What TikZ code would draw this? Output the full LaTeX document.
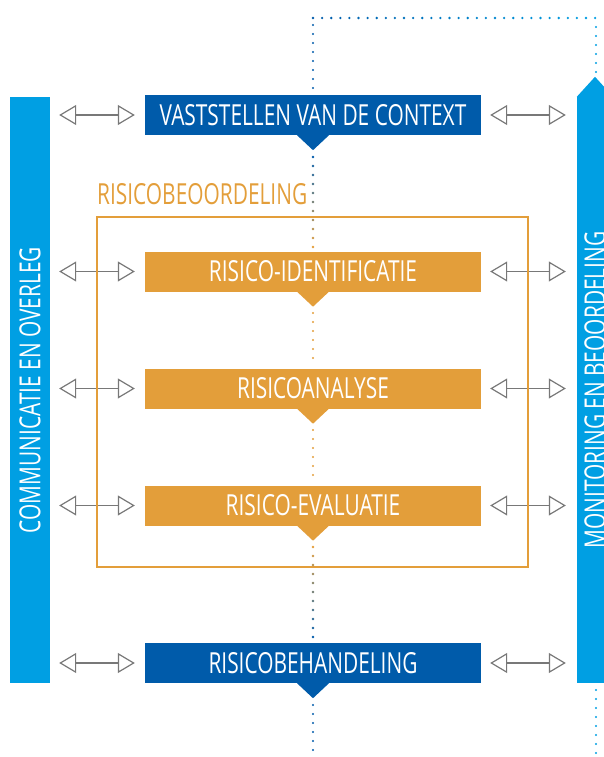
\documentclass[tikz,border=0pt]{standalone}
\usepackage{fontspec}
\setmainfont{Open Sans}[FakeStretch=0.72]
\usetikzlibrary{arrows.meta,positioning}
\definecolor{donkerblauw}{RGB}{0,91,170}
\definecolor{lichtblauw}{RGB}{0,159,227}
\definecolor{oranje}{RGB}{227,158,58}
\definecolor{pijlgrijs}{RGB}{120,120,120}

\begin{document}
\begin{tikzpicture}[x=1pt,y=-1pt,
  stap/.style={minimum width=336pt, minimum height=40pt, inner sep=0pt, text=white, font=\fontsize{29}{30}\selectfont},
  blauwstap/.style={stap, fill=donkerblauw},
  oranjestap/.style={stap, fill=oranje},
  balk/.style={fill=lichtblauw, inner sep=0pt, rotate=90, minimum width=586pt, text=white, font=\fontsize{29}{30}\selectfont},
  pijl/.style={draw=pijlgrijs, line width=1.2pt, {Triangle[open,length=17pt,width=20pt]}-{Triangle[open,length=17pt,width=20pt]}},
  stip/.style={line width=2.4pt, line cap=round, dash pattern=on 0pt off 9pt}
 ]

 \useasboundingbox (0,0) rectangle (604,757);
 \clip (0,0) rectangle (604,757);

 % zijbalken
 \node[balk, minimum height=40pt] (communicatie) at (30,390) {COMMUNICATIE EN OVERLEG};
 \node[balk, minimum height=36pt] (monitoring) at (595,390) {MONITORING EN BEOORDELING};
 \fill[lichtblauw] (monitoring.north east) -- ([yshift=20pt]monitoring.east) -- (monitoring.south east) -- cycle;

 % stappen
 \node[blauwstap] (context) at (313,115) {VASTSTELLEN VAN DE CONTEXT};
 \node[oranjestap] (identificatie) at (313,271.5) {RISICO-IDENTIFICATIE};
 \node[oranjestap] (analyse) at (313,388.5) {RISICOANALYSE};
 \node[oranjestap] (evaluatie) at (313,505.5) {RISICO-EVALUATIE};
 \node[blauwstap] (behandeling) at (313,663) {RISICOBEHANDELING};

 \foreach \s/\c in {context/donkerblauw, identificatie/oranje, analyse/oranje, evaluatie/oranje, behandeling/donkerblauw} {
   \fill[\c] ([xshift=-16pt]\s.south) -- ([xshift=16pt]\s.south) -- ([yshift=-15pt]\s.south) -- cycle;
   \draw[pijl, shorten <=9pt, shorten >=10pt] (communicatie.south |- \s.west) -- (\s.west);
   \draw[pijl, shorten <=9pt, shorten >=11pt] (\s.east) -- (monitoring.north |- \s.east);
 }

 % risicobeoordeling
 \draw[oranje, line width=1.5pt] (97,217) rectangle (528,567);
 \node[anchor=south west, inner sep=0pt, text=oranje, font=\fontsize{29}{30}\selectfont] (beoordeling) at (97,205) {RISICOBEOORDELING};

 % stippellijnen
 \draw[stip, donkerblauw] (313,88) -- (313,18);
 \foreach \i in {0,...,31} {
   \pgfmathtruncatemacro\mix{100*\i/31}
   \fill[lichtblauw!\mix!donkerblauw] (313+9.1*\i,18) circle (1.3);
 }
 \draw[stip, lichtblauw] (596,27) -- (596,72);
 \foreach \i in {0,...,10} {
   \pgfmathtruncatemacro\mix{10*\i}
   \fill[oranje!\mix!donkerblauw] (313,157+9*\i) circle (1.3);
   \fill[donkerblauw!\mix!oranje] (313,547+9*\i) circle (1.3);
 }
 \draw[stip, oranje] (313,313) -- (313,365);
 \draw[stip, oranje] (313,430) -- (313,482);
 \draw[stip, donkerblauw] (313,705) -- (313,760);
 \draw[stip, lichtblauw] (596,690) -- (596,760);

\end{tikzpicture}
\end{document}
